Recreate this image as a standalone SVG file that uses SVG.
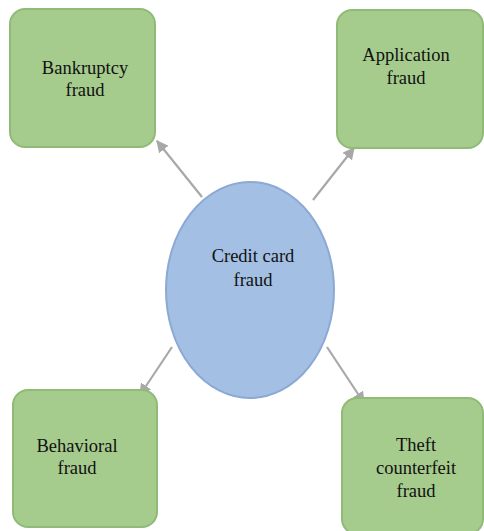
<svg xmlns="http://www.w3.org/2000/svg" width="484" height="531" viewBox="0 0 484 531">
<style>
.box{fill:#a5cb8d;stroke:#8fbb76;stroke-width:2}
.lbl{font-family:"Liberation Serif","Times New Roman",serif;font-size:18.5px;fill:#111;text-anchor:middle}
.conn{stroke:#a8a8a8;stroke-width:2.2;fill:none}
</style>
<defs>
<marker id="ah" viewBox="0 0 10 10" refX="9" refY="5" markerWidth="5.5" markerHeight="5.5" orient="auto" markerUnits="strokeWidth">
<path d="M0,0 L10,5 L0,10 z" fill="#a8a8a8"/>
</marker>
</defs>
<rect width="484" height="531" fill="#fff"/>
<g id="connectors">
<line class="conn" x1="202" y1="197" x2="157" y2="141" marker-end="url(#ah)"/>
<line class="conn" x1="313" y1="200" x2="354" y2="148" marker-end="url(#ah)"/>
<line class="conn" x1="172" y1="347" x2="140" y2="395" marker-end="url(#ah)"/>
<line class="conn" x1="327" y1="347" x2="364" y2="403" marker-end="url(#ah)"/>
</g>
<g id="bankruptcy">
<rect class="box" x="10" y="9" width="145" height="138" rx="15"/>
<text class="lbl" x="85" y="74">Bankruptcy</text>
<text class="lbl" x="85" y="96">fraud</text>
</g>
<g id="application">
<rect class="box" x="337" y="10" width="146" height="138" rx="15"/>
<text class="lbl" x="406" y="61">Application</text>
<text class="lbl" x="406" y="84">fraud</text>
</g>
<g id="credit">
<ellipse cx="250" cy="290" rx="84" ry="108" fill="#a3bfe4" stroke="#8ba9d4" stroke-width="2"/>
<text class="lbl" x="253" y="262">Credit card</text>
<text class="lbl" x="253" y="286">fraud</text>
</g>
<g id="behavioral">
<rect class="box" x="13" y="390" width="144" height="137" rx="15"/>
<text class="lbl" x="77" y="452">Behavioral</text>
<text class="lbl" x="77" y="474">fraud</text>
</g>
<g id="theft">
<rect class="box" x="342" y="398" width="141" height="136" rx="15"/>
<text class="lbl" x="416" y="451">Theft</text>
<text class="lbl" x="416" y="474">counterfeit</text>
<text class="lbl" x="416" y="497">fraud</text>
</g>
</svg>
